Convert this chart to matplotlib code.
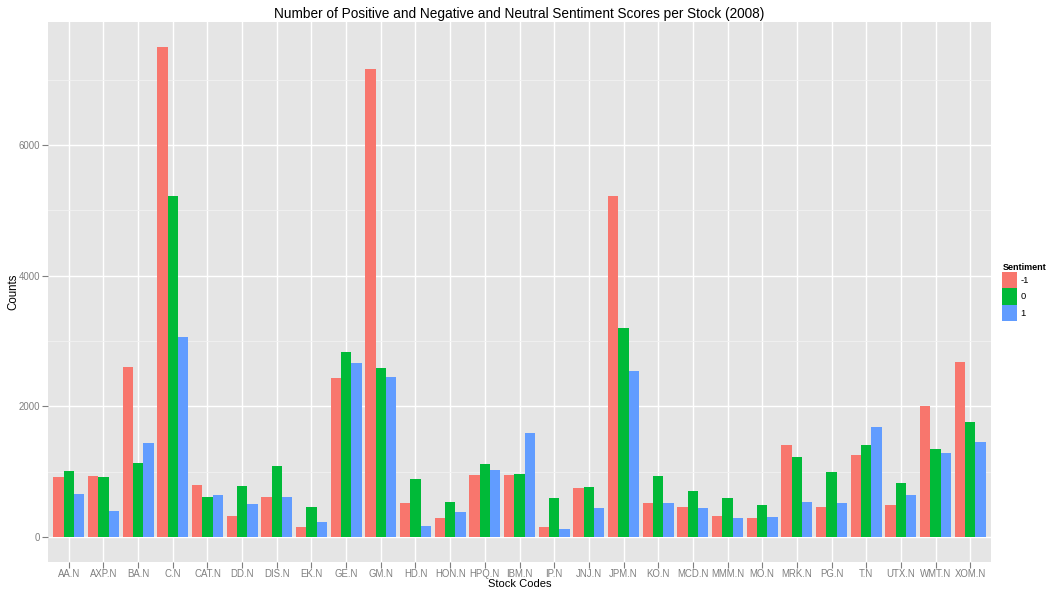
import matplotlib

matplotlib.use("Agg")

import matplotlib.pyplot as plt
import numpy as np
from matplotlib.patches import Patch
from matplotlib.ticker import MultipleLocator

plt.rcParams["font.family"] = ["Liberation Sans", "DejaVu Sans"]

stocks = ["AA.N", "AXP.N", "BA.N", "C.N", "CAT.N", "DD.N", "DIS.N", "EK.N", "GE.N", "GM.N",
          "HD.N", "HON.N", "HPQ.N", "IBM.N", "IP.N", "JNJ.N", "JPM.N", "KO.N", "MCD.N", "MMM.N",
          "MO.N", "MRK.N", "PG.N", "T.N", "UTX.N", "WMT.N", "XOM.N"]
neg = [923, 934, 2597, 7508, 801, 326, 617, 158, 2440, 7161,
       520, 296, 954, 949, 158, 750, 5222, 520, 469, 331,
       296, 1409, 469, 1250, 500, 2000, 2680]
neu = [1010, 923, 1138, 5227, 622, 786, 1092, 464, 2838, 2588,
       888, 536, 1127, 969, 597, 775, 3205, 934, 709, 597,
       485, 1225, 1000, 1403, 827, 1347, 1766]
pos = [658, 403, 1440, 3063, 648, 505, 622, 234, 2659, 2450,
       173, 383, 1026, 1597, 132, 449, 2542, 520, 444, 296,
       311, 541, 520, 1689, 648, 1291, 1459]
sentiments = ["-1", "0", "1"]
colors = ["#F8766D", "#00BA38", "#619CFF"]

fig = plt.figure(figsize=(10.48, 5.89), dpi=100)
ax = fig.add_axes([48 / 1048, 27.3 / 589, 943 / 1048, 539.7 / 589])
ax.set_facecolor("#E5E5E5")

x = np.arange(1, len(stocks) + 1)
w = 0.3
for i, (vals, col) in enumerate(zip([neg, neu, pos], colors)):
    ax.bar(x + (i - 1) * w, vals, width=w, color=col, linewidth=0, zorder=3)

ax.set_xlim(0.4, len(stocks) + 0.6)
ax.set_ylim(-375, 7883)
ax.yaxis.set_major_locator(MultipleLocator(2000))
ax.yaxis.set_minor_locator(MultipleLocator(1000))
ax.set_xticks(x)
ax.set_xticklabels(stocks)
ax.grid(which="minor", axis="y", color="#F2F2F2", linewidth=0.6, zorder=0)
ax.grid(which="major", axis="both", color="white", linewidth=1.0, zorder=1)
for s in ax.spines.values():
    s.set_visible(False)
ax.tick_params(axis="both", which="major", colors="#7F7F7F", labelcolor="#7F7F7F",
               labelsize=6.9, length=4, width=0.8, pad=1.5)
ax.tick_params(axis="both", which="minor", length=0)

ax.set_xlabel("Stock Codes", fontsize=8, labelpad=0)
ax.set_ylabel("Counts", fontsize=8.3)
ax.yaxis.set_label_coords(-0.030, 0.5)
ax.set_title("Number of Positive and Negative and Neutral Sentiment Scores per Stock (2008)",
             fontsize=9.8, pad=3)

# legend keys ~16px square blocks stacked like ggplot's guide
handles = [Patch(facecolor=c, edgecolor="none") for c in colors]
leg = ax.legend(handles, sentiments, title="Sentiment", loc="center left",
                bbox_to_anchor=(1.012, 0.5), frameon=False, fontsize=6.8,
                handlelength=1.6, handleheight=2.3, handletextpad=0.35,
                labelspacing=0.0, borderpad=0, borderaxespad=0)
leg.get_title().set_fontweight("bold")
leg.get_title().set_fontsize(6.5)
leg._legend_box.align = "left"

fig.savefig("out.png", dpi=100, facecolor="white")
